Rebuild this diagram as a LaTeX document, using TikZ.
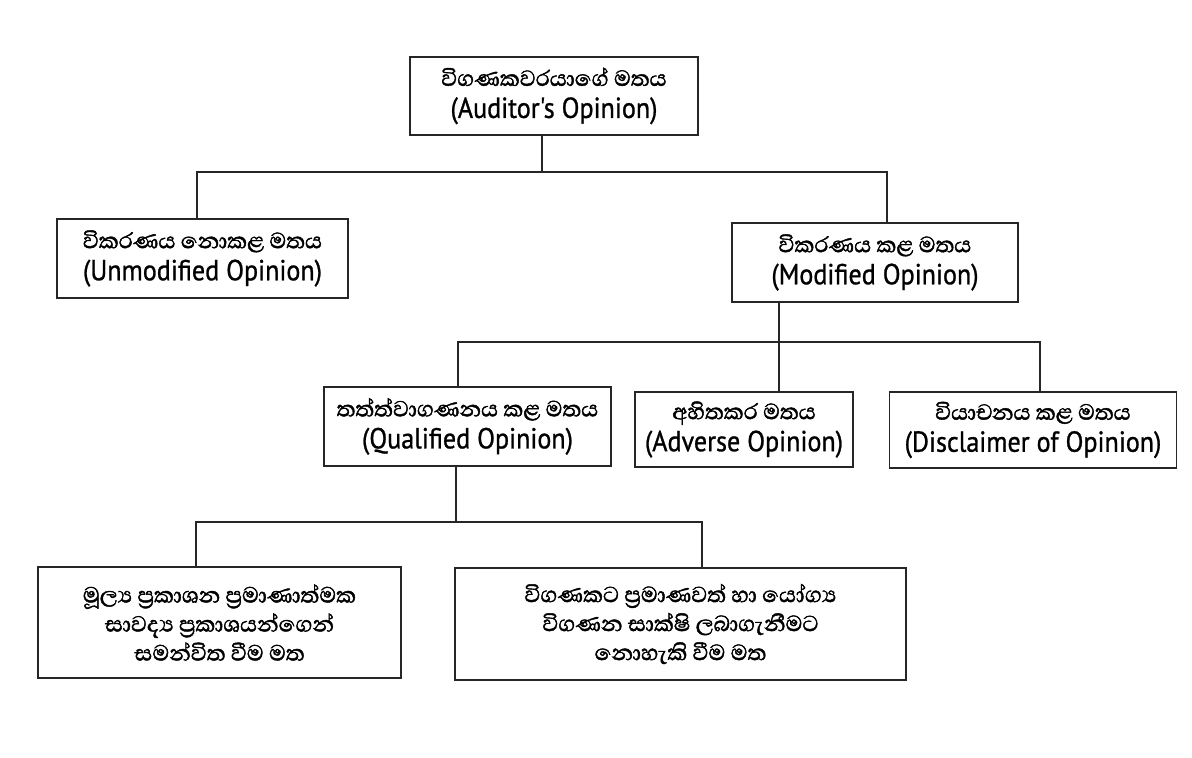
\documentclass[tikz,border=0pt]{standalone}
\usepackage{fontspec}
\newfontfamily\sinfont[Script=Sinhala,FakeBold=1.6]{Abhaya Libre}
\newfontfamily\latfont[FakeStretch=0.9,FakeBold=0.9]{PT Sans}
\begin{document}
\begin{tikzpicture}[x=1pt,y=-1pt,
  box/.style={draw=black!85, line width=1.3pt, inner sep=0pt, align=center, font=\fontsize{28}{29}\selectfont},
  conn/.style={draw=black!85, line width=1.2pt}]
\useasboundingbox[fill=white] (0,0) rectangle (1192,758);
\newcommand{\si}[1]{{\sinfont\fontsize{28}{29.5}\selectfont #1}}
\newcommand{\la}[1]{{\latfont\fontsize{29}{29}\selectfont #1}}
% level 0
\node[box, minimum width=288, minimum height=78] (top) at (554,96)
  {\si{විගණකවරයාගේ මතය}\\[3pt]\la{(Auditor's Opinion)}};
% level 1
\node[box, minimum width=291, minimum height=79] (unmod) at (202.5,258.5)
  {\si{විකරණය නොකළ මතය}\\[3pt]\la{(Unmodified Opinion)}};
\node[box, minimum width=286, minimum height=79] (mod) at (875,262.5)
  {\si{විකරණය කළ මතය}\\[3pt]\la{(Modified Opinion)}};
% level 2
\node[box, minimum width=287, minimum height=79] (qual) at (467.5,426.5)
  {\si{තත්ත්වාගණනය කළ මතය}\\[3pt]\la{(Qualified Opinion)}};
\node[box, minimum width=218, minimum height=75] (adv) at (744,429.5)
  {\si{අහිතකර මතය}\\[3pt]\la{(Adverse Opinion)}};
\node[box, minimum width=287, minimum height=76] (disc) at (1033,430)
  {\si{වියාචනය කළ මතය}\\[3pt]\la{(Disclaimer of Opinion)}};
% level 3
\node[box, minimum width=363, minimum height=111] (bl) at (219.5,622.5)
  {\si{මූල්‍ය ප්‍රකාශන ප්‍රමාණාත්මක}\\\si{සාවද්‍ය ප්‍රකාශයන්ගෙන්}\\\si{සමන්විත වීම මත}};
\node[box, minimum width=451, minimum height=112] (br) at (680.5,624)
  {\si{විගණකට ප්‍රමාණවත් හා යෝග්‍ය}\\\si{විගණන සාක්ෂි ලබාගැනීමට}\\\si{නොහැකි වීම මත}};
% connectors
\coordinate (a0) at (542,172);
\coordinate (a1) at (197,172);
\coordinate (a2) at (887,172);
\draw[conn] (top.south -| a0) -- (a0);
\draw[conn] (unmod.north -| a1) -- (a1) -- (a2) -- (mod.north -| a2);
\coordinate (b0) at (779,342);
\coordinate (b1) at (458,342);
\coordinate (b2) at (1040,342);
\draw[conn] (mod.south -| b0) -- (b0);
\draw[conn] (qual.north -| b1) -- (b1) -- (b2) -- (disc.north -| b2);
\draw[conn] (adv.north -| b0) -- (b0);
\coordinate (c0) at (456,522);
\coordinate (c1) at (196,522);
\coordinate (c2) at (702,522);
\draw[conn] (qual.south -| c0) -- (c0);
\draw[conn] (bl.north -| c1) -- (c1) -- (c2) -- (br.north -| c2);
\end{tikzpicture}
\end{document}
